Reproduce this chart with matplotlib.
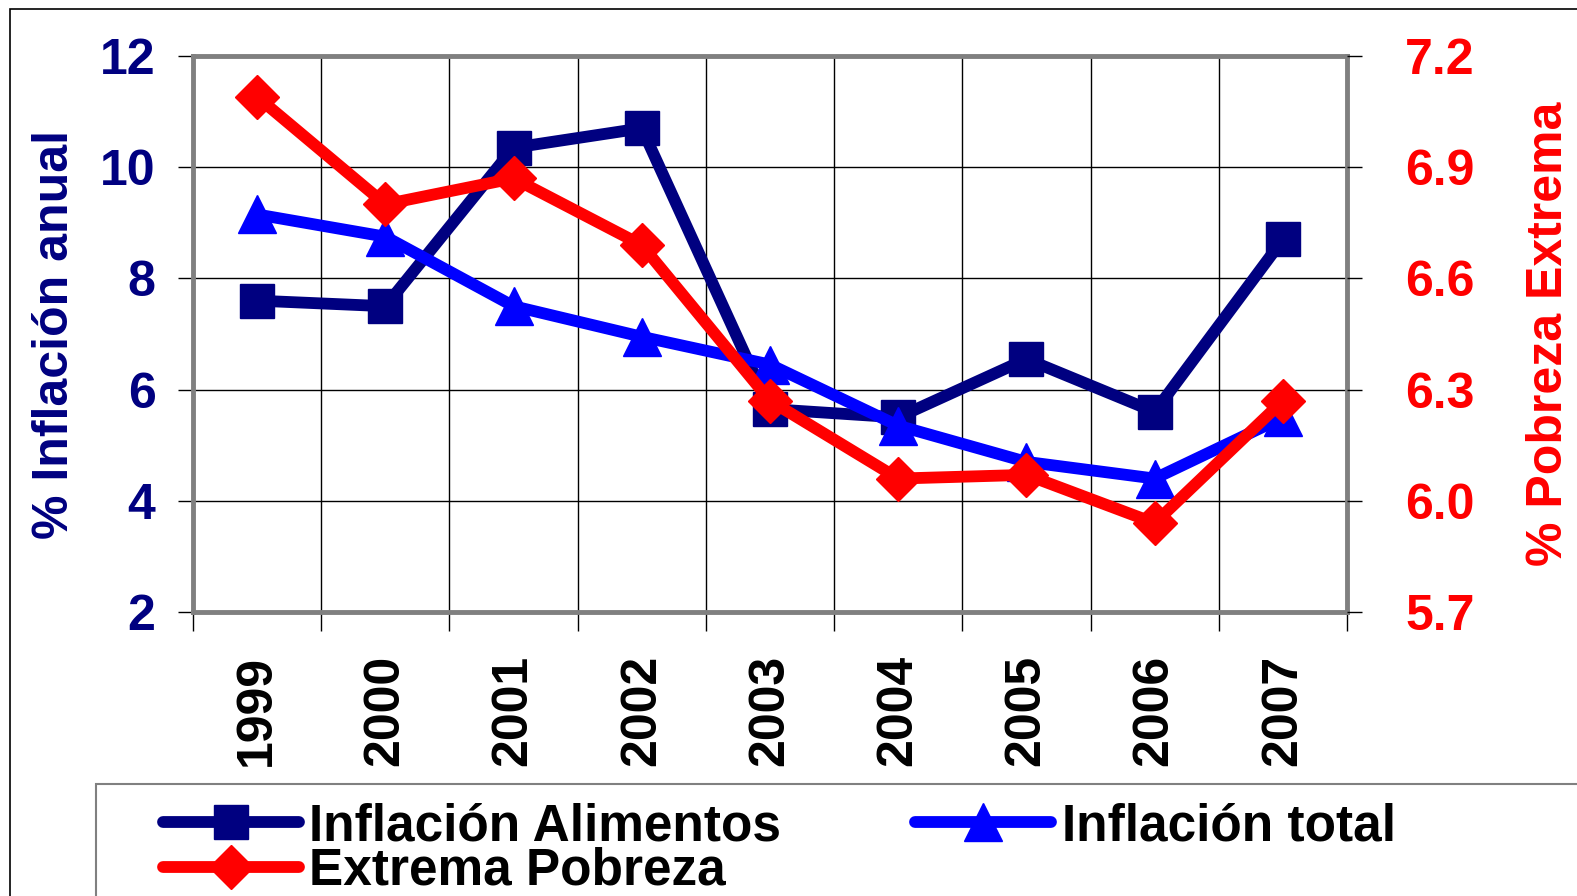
import matplotlib
matplotlib.use("Agg")
import matplotlib.pyplot as plt
from matplotlib.patches import Rectangle
from matplotlib.lines import Line2D
from matplotlib.ticker import FixedLocator, NullFormatter

# Datos
anios = ['1999', '2000', '2001', '2002', '2003', '2004', '2005', '2006', '2007']
inflacion_alimentos = [7.6, 7.5, 10.35, 10.7, 5.65, 5.5, 6.55, 5.6, 8.7]
inflacion_total = [9.15, 8.75, 7.5, 6.95, 6.45, 5.35, 4.7, 4.4, 5.5]
extrema_pobreza = [7.09, 6.8, 6.87, 6.69, 6.27, 6.06, 6.07, 5.94, 6.27]

ticks_izq = [2, 4, 6, 8, 10, 12]
ticks_der = [5.7, 6.0, 6.3, 6.6, 6.9, 7.2]

NAVY = '#000080'
AZUL = '#0000FF'
ROJO = '#FF0000'
GRIS = '#808080'
FS = 36

plt.rcParams['font.family'] = ['Liberation Sans', 'DejaVu Sans']
plt.rcParams['font.weight'] = 'bold'

fig = plt.figure(figsize=(15.77, 8.96), dpi=100)

# marco exterior
fig.patches.append(Rectangle((10 / 1577, -0.1), 1.2, 1 - 9 / 896 + 0.1,
                             transform=fig.transFigure, fill=False,
                             edgecolor='black', lw=1.2))

ax = fig.add_axes([193 / 1577, 1 - 612 / 896, 1154 / 1577, 556 / 896])
x = list(range(len(anios)))

ax.plot(x, inflacion_alimentos, color=NAVY, lw=8.5, marker='s', ms=25,
        solid_joinstyle='round', zorder=3)
ax.plot(x, inflacion_total, color=AZUL, lw=8.5, marker='^', ms=27,
        solid_joinstyle='round', zorder=4)

ax.set_xlim(-0.5, len(anios) - 0.5)
ax.set_ylim(2, 12)
ax.set_yticks(ticks_izq)
ax.set_xticks(x)
ax.set_xticklabels(anios, rotation=90, fontsize=FS, fontweight='bold')
ax.xaxis.set_minor_locator(FixedLocator([i - 0.5 for i in range(len(anios) + 1)]))
ax.xaxis.set_minor_formatter(NullFormatter())
ax.tick_params(axis='x', which='major', length=0, pad=31)
ax.tick_params(axis='x', which='minor', length=14, width=1, color='black')
ax.tick_params(axis='y', length=11, width=1, pad=16, labelsize=FS,
               labelcolor=NAVY)
for t in ax.get_yticklabels():
    t.set_fontweight('bold')
ax.grid(True, axis='y', color='black', lw=1)
ax.grid(True, axis='x', which='minor', color='black', lw=1)
ax.set_axisbelow(True)
for s in ax.spines.values():
    s.set_color(GRIS)
    s.set_linewidth(3.5)
ax.set_ylabel('% Inflación anual', fontsize=FS, fontweight='bold', color=NAVY)
ax.yaxis.set_label_coords(-0.100, 0.5)

ax2 = ax.twinx()
ax2.plot(x, extrema_pobreza, color=ROJO, lw=8.5, marker='D', ms=22,
         solid_joinstyle='round', zorder=5)
ax2.set_ylim(5.7, 7.2)
ax2.set_yticks(ticks_der)
ax2.set_yticklabels([f'{v:.1f}' for v in ticks_der], fontsize=FS,
                    fontweight='bold', color=ROJO)
ax2.tick_params(axis='y', length=11, width=1, pad=31)
for s in ax2.spines.values():
    s.set_visible(False)
ax2.set_ylabel('% Pobreza Extrema', fontsize=FS, fontweight='bold', color=ROJO)
ax2.yaxis.set_label_coords(1.155, 0.5)

# caja de la leyenda
fig.patches.append(Rectangle((96 / 1577, -0.1), 1.2, 0.1 + 1 - 784 / 896,
                             transform=fig.transFigure, fill=False,
                             edgecolor=GRIS, lw=1.5))

handles = [
    Line2D([], [], color=NAVY, lw=8.5, marker='s', ms=25, solid_capstyle='round'),
    Line2D([], [], color=ROJO, lw=8.5, marker='D', ms=22, solid_capstyle='round'),
    Line2D([], [], color=AZUL, lw=8.5, marker='^', ms=27, solid_capstyle='round'),
]
etiquetas = ['Inflación Alimentos', 'Extrema Pobreza', 'Inflación total']
fig.legend(handles, etiquetas, loc='upper left',
           bbox_to_anchor=(163 / 1577, 1 - 802 / 896), ncol=2, frameon=False,
           prop={'weight': 'bold', 'size': 37},
           handlelength=2.65, handletextpad=0.2, columnspacing=2.6,
           labelspacing=-0.08, borderpad=0, borderaxespad=0)

fig.savefig('out.png', dpi=100)
